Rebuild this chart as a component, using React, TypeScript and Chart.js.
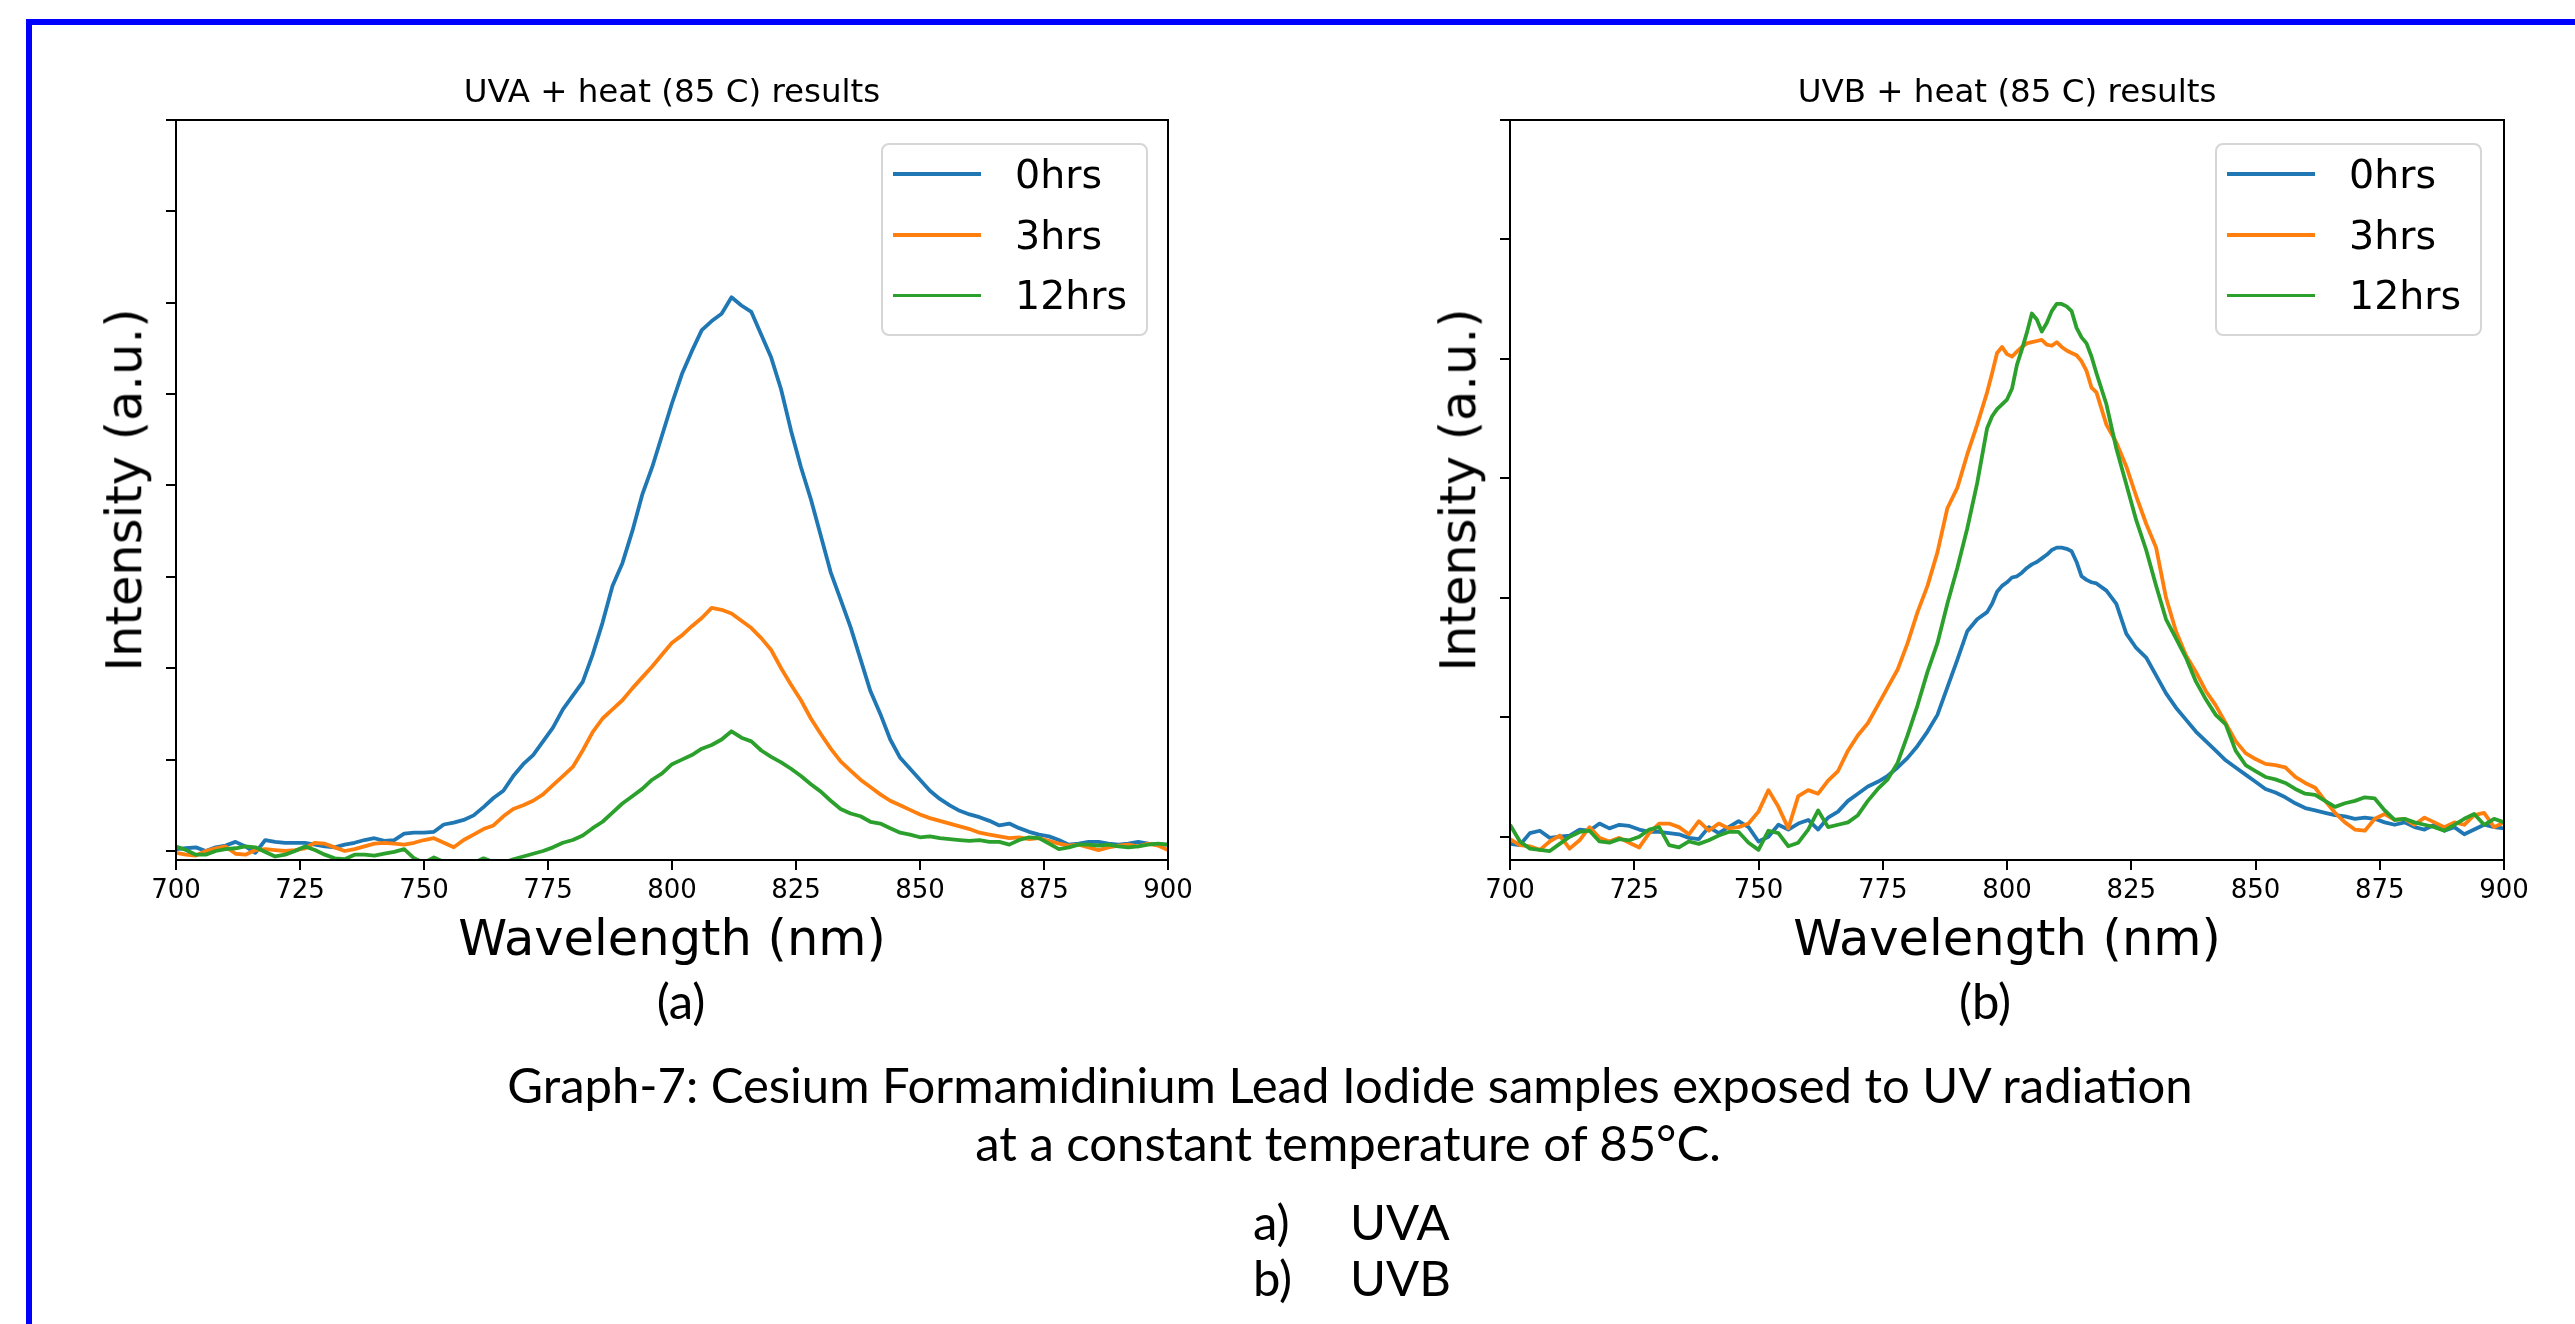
import React, { useEffect, useRef } from "react";
import { Chart, registerables } from "chart.js";

Chart.register(...registerables);

// ---------------- DATA ----------------
const seriesLabels = ["0hrs", "3hrs", "12hrs"];
const seriesColors = ["#1f77b4", "#ff7f0e", "#2ca02c"];
const xTickValues = [700, 725, 750, 775, 800, 825, 850, 875, 900];
const uvaYTicks = [0, 1, 2, 3, 4, 5, 6, 7, 8];
const uvbYTicks = [0, 1, 2, 3, 4, 5, 6];

const uvaWavelength = [
  700, 702, 704, 706, 708, 710, 712, 714, 716, 718, 720, 722, 724, 726, 728, 730, 732, 734, 736, 738,
  740, 742, 744, 746, 748, 750, 752, 754, 756, 758, 760, 762, 764, 766, 768, 770, 772, 774, 776, 778,
  780, 782, 784, 786, 788, 790, 792, 794, 796, 798, 800, 802, 804, 806, 808, 810, 812, 814, 816, 818,
  820, 822, 824, 826, 828, 830, 832, 834, 836, 838, 840, 842, 844, 846, 848, 850, 852, 854, 856, 858,
  860, 862, 864, 866, 868, 870, 872, 874, 876, 878, 880, 882, 884, 886, 888, 890, 892, 894, 896, 898,
  900,
];
const uva0hrs = [
  0.02, 0.03, 0.04, 0.0, 0.04, 0.06, 0.1, 0.05, -0.02, 0.12, 0.1, 0.09, 0.09, 0.09, 0.07, 0.05, 0.04, 0.07, 0.09, 0.12,
  0.14, 0.11, 0.12, 0.19, 0.2, 0.2, 0.21, 0.29, 0.31, 0.34, 0.39, 0.48, 0.58, 0.66, 0.82, 0.95, 1.05, 1.2, 1.35, 1.55,
  1.7, 1.85, 2.15, 2.5, 2.9, 3.15, 3.5, 3.9, 4.2, 4.55, 4.9, 5.22, 5.47, 5.7, 5.8, 5.88, 6.06, 5.97, 5.9, 5.65,
  5.4, 5.05, 4.6, 4.2, 3.85, 3.45, 3.05, 2.75, 2.45, 2.1, 1.75, 1.5, 1.22, 1.02, 0.9, 0.78, 0.66, 0.57, 0.5, 0.44,
  0.4, 0.37, 0.33, 0.28, 0.3, 0.25, 0.21, 0.18, 0.16, 0.12, 0.07, 0.08, 0.1, 0.1, 0.08, 0.07, 0.08, 0.1, 0.08, 0.07,
  0.07,
];
const uva3hrs = [
  -0.02, -0.04, -0.05, 0.0, 0.03, 0.05, -0.03, -0.04, 0.01, 0.02, 0.01, 0.0, 0.01, 0.03, 0.09, 0.08, 0.04, 0.0, 0.02, 0.05,
  0.08, 0.09, 0.08, 0.07, 0.09, 0.12, 0.14, 0.09, 0.04, 0.12, 0.18, 0.24, 0.28, 0.38, 0.46, 0.5, 0.55, 0.62, 0.72, 0.82,
  0.92, 1.1, 1.3, 1.45, 1.55, 1.65, 1.78, 1.9, 2.02, 2.15, 2.28, 2.36, 2.46, 2.55, 2.66, 2.64, 2.6, 2.52, 2.44, 2.33,
  2.2, 2.0, 1.82, 1.65, 1.45, 1.28, 1.12, 0.98, 0.88, 0.78, 0.7, 0.62, 0.55, 0.5, 0.45, 0.4, 0.36, 0.33, 0.3, 0.27,
  0.24, 0.2, 0.18, 0.16, 0.14, 0.15, 0.13, 0.14, 0.11, 0.08, 0.06, 0.07, 0.04, 0.01, 0.04, 0.06, 0.07, 0.05, 0.08, 0.06,
  0.01,
];
const uva12hrs = [
  0.05, 0.01, -0.04, -0.04, 0.0, 0.02, 0.03, 0.05, 0.04, -0.01, -0.06, -0.04, 0.0, 0.05, 0.01, -0.04, -0.08, -0.09, -0.04, -0.04,
  -0.05, -0.03, -0.01, 0.02, -0.08, -0.13, -0.07, -0.12, -0.14, -0.12, -0.13, -0.08, -0.12, -0.13, -0.09, -0.06, -0.03, 0.0, 0.04, 0.09,
  0.12, 0.17, 0.25, 0.32, 0.42, 0.52, 0.6, 0.68, 0.78, 0.85, 0.95, 1.0, 1.05, 1.12, 1.16, 1.22, 1.31, 1.24, 1.2, 1.1,
  1.03, 0.97, 0.9, 0.82, 0.73, 0.65, 0.55, 0.46, 0.41, 0.38, 0.32, 0.3, 0.25, 0.2, 0.18, 0.15, 0.16, 0.14, 0.13, 0.12,
  0.11, 0.12, 0.1, 0.1, 0.07, 0.12, 0.15, 0.14, 0.08, 0.02, 0.04, 0.07, 0.07, 0.06, 0.07, 0.05, 0.04, 0.05, 0.07, 0.08,
  0.07,
];

const uvbWavelength = [
  700, 702, 704, 706, 708, 710, 712, 714, 716, 718, 720, 722, 724, 726, 728, 730, 732, 734, 736, 738,
  740, 742, 744, 746, 748, 750, 752, 754, 756, 758, 760, 762, 764, 766, 768, 770, 772, 774, 776, 778,
  780, 782, 784, 786, 788, 790, 792, 794, 796,
  797, 798, 799, 800, 801, 802, 803, 804, 805, 806, 807, 808, 809, 810, 811, 812, 813, 814, 815, 816, 817,
  818, 820, 822, 824, 826, 828, 830, 832, 834, 836, 838, 840, 842, 844, 846, 848, 850, 852, 854, 856,
  858, 860, 862, 864, 866, 868, 870, 872, 874, 876, 878, 880, 882, 884, 886, 888, 890, 892, 894, 896,
  898, 900,
];
const uvb0hrs = [
  -0.06, -0.07, 0.03, 0.05, -0.01, 0.0, 0.01, 0.06, 0.05, 0.11, 0.07, 0.1, 0.09, 0.06, 0.04, 0.04, 0.03, 0.02, -0.01, -0.02,
  0.08, 0.03, 0.08, 0.13, 0.08, -0.04, 0.0, 0.1, 0.06, 0.11, 0.14, 0.06, 0.16, 0.21, 0.3, 0.36, 0.42, 0.46, 0.51, 0.58,
  0.66, 0.76, 0.88, 1.02, 1.25, 1.48, 1.72, 1.82, 1.88,
  1.95, 2.05, 2.1, 2.13, 2.17, 2.18, 2.21, 2.25, 2.28, 2.3, 2.33, 2.36, 2.4, 2.42, 2.42, 2.41, 2.39, 2.3, 2.18, 2.15, 2.13,
  2.12, 2.06, 1.95, 1.7, 1.58, 1.5, 1.35, 1.2, 1.08, 0.98, 0.88, 0.8, 0.72, 0.64, 0.58, 0.52, 0.46, 0.4, 0.37, 0.33,
  0.28, 0.24, 0.22, 0.2, 0.18, 0.17, 0.15, 0.16, 0.15, 0.12, 0.1, 0.12, 0.08, 0.06, 0.1, 0.05, 0.08, 0.02, 0.06, 0.1,
  0.08, 0.07,
];
const uvb3hrs = [
  -0.02, -0.07, -0.08, -0.11, -0.04, 0.01, -0.1, -0.03, 0.08, -0.01, -0.04, -0.01, -0.05, -0.09, 0.03, 0.11, 0.11, 0.08, 0.02, 0.13,
  0.05, 0.11, 0.07, 0.08, 0.11, 0.21, 0.39, 0.25, 0.07, 0.34, 0.39, 0.36, 0.47, 0.55, 0.72, 0.85, 0.95, 1.1, 1.25, 1.4,
  1.62, 1.88, 2.1, 2.38, 2.75, 2.92, 3.2, 3.45, 3.72,
  3.88, 4.05, 4.1, 4.04, 4.02, 4.06, 4.1, 4.13, 4.14, 4.15, 4.16, 4.12, 4.11, 4.14, 4.1, 4.07, 4.05, 4.03, 3.98, 3.9, 3.76,
  3.72, 3.45, 3.3, 3.1, 2.85, 2.62, 2.42, 2.0, 1.72, 1.52, 1.38, 1.22, 1.1, 0.95, 0.8, 0.7, 0.65, 0.61, 0.6, 0.58,
  0.5, 0.45, 0.41, 0.3, 0.2, 0.12, 0.06, 0.05, 0.15, 0.19, 0.14, 0.15, 0.1, 0.16, 0.12, 0.08, 0.12, 0.1, 0.18, 0.2,
  0.08, 0.12,
];
const uvb12hrs = [
  0.1, -0.04, -0.1, -0.11, -0.12, -0.06, 0.0, 0.04, 0.05, -0.04, -0.05, -0.02, -0.03, 0.0, 0.06, 0.08, -0.07, -0.09, -0.04, -0.06,
  -0.03, 0.01, 0.04, 0.04, -0.05, -0.11, 0.05, 0.03, -0.08, -0.05, 0.06, 0.22, 0.08, 0.1, 0.12, 0.18, 0.3, 0.4, 0.48, 0.62,
  0.85, 1.1, 1.38, 1.62, 1.95, 2.25, 2.58, 2.96, 3.42,
  3.52, 3.58, 3.62, 3.66, 3.75, 3.95, 4.08, 4.22, 4.38, 4.33, 4.23, 4.3, 4.4, 4.46, 4.46, 4.44, 4.4, 4.26, 4.18, 4.13, 4.02,
  3.88, 3.62, 3.25, 2.95, 2.65, 2.4, 2.1, 1.82, 1.66, 1.5, 1.3, 1.15, 1.02, 0.94, 0.72, 0.6, 0.55, 0.5, 0.48, 0.45,
  0.4, 0.36, 0.35, 0.3, 0.25, 0.28, 0.3, 0.33, 0.32, 0.22, 0.14, 0.15, 0.12, 0.1, 0.08, 0.05, 0.1, 0.15, 0.19, 0.1,
  0.15, 0.12,
];

// ---------------- CHART ----------------
const framePlugin = {
  id: "frame",
  afterDatasetsDraw(chart: any) {
    const { ctx, chartArea: a } = chart;
    ctx.save();
    ctx.strokeStyle = "#000";
    ctx.lineWidth = 2;
    ctx.strokeRect(a.left, a.top, a.right - a.left, a.bottom - a.top);
    ctx.restore();
  },
};

type ChartProps = {
  left: number;
  top: number;
  width: number;
  height: number;
  padding: { left: number; right: number; top: number; bottom: number };
  wavelengths: number[];
  series: number[][];
  yMin: number;
  yMax: number;
  yTicks: number[];
};

function SpectrumChart(p: ChartProps) {
  const ref = useRef<HTMLCanvasElement>(null);
  useEffect(() => {
    if (!ref.current) return;
    const datasets = p.series.map((vals, si) => ({
      label: seriesLabels[si],
      data: p.wavelengths.map((x, i) => ({ x, y: vals[i] })),
      borderColor: seriesColors[si],
      backgroundColor: seriesColors[si],
      borderWidth: 3.8,
      borderJoinStyle: "round" as const,
      pointRadius: 0,
      fill: false,
      tension: 0,
      order: 3 - si,
    }));
    const gridOpts = {
      display: true,
      drawOnChartArea: false,
      drawTicks: true,
      tickLength: 10,
      color: "#000",
      lineWidth: 2,
      tickWidth: 2,
      tickColor: "#000",
    };
    const chart = new Chart(ref.current, {
      type: "line",
      data: { datasets },
      options: {
        animation: false,
        responsive: false,
        events: [],
        layout: { padding: p.padding },
        plugins: {
          legend: { display: false },
          title: { display: false },
          tooltip: { enabled: false },
        },
        scales: {
          x: {
            type: "linear",
            min: 700,
            max: 900,
            border: { display: false },
            grid: gridOpts,
            ticks: {
              stepSize: 25,
              color: "#000",
              padding: 6,
              maxRotation: 0,
              autoSkip: false,
              font: { family: "DejaVu Sans", size: 26 },
            },
            afterBuildTicks: (s: any) => {
              s.ticks = xTickValues.map((v) => ({ value: v }));
            },
            afterFit: (s: any) => {
              s.height = 60;
              s.paddingLeft = 0;
              s.paddingRight = 0;
            },
          },
          y: {
            type: "linear",
            min: p.yMin,
            max: p.yMax,
            border: { display: false },
            grid: gridOpts,
            ticks: { display: false },
            afterBuildTicks: (s: any) => {
              s.ticks = p.yTicks.map((v) => ({ value: v }));
            },
            afterFit: (s: any) => {
              s.width = 10;
              s.paddingTop = 0;
              s.paddingBottom = 0;
            },
          },
        },
      } as any,
      plugins: [framePlugin],
    });
    return () => chart.destroy();
  }, []);
  return (
    <canvas
      ref={ref}
      width={p.width}
      height={p.height}
      style={{ position: "absolute", left: p.left, top: p.top, width: p.width, height: p.height }}
    />
  );
}

// ---------------- TEXT HELPERS ----------------
const DV = "'DejaVu Sans', sans-serif";
const LATO = "Lato, 'Open Sans', sans-serif";
const K_DV = 0.846; // baseline offset ratio for DejaVu Sans with line-height 1
const K_LATO = 0.887;
const CAP = 49;

function Txt(props: {
  x: number;
  y: number; // baseline
  text: string;
  size: number;
  family?: string;
  align?: "center" | "left";
  k?: number;
}) {
  const { x, y, text, size, family = DV, align = "center", k = K_DV } = props;
  return (
    <div
      style={{
        position: "absolute",
        left: x,
        top: y - k * size,
        fontFamily: family,
        fontSize: size,
        lineHeight: `${size}px`,
        whiteSpace: "nowrap",
        color: "#000",
        transform: align === "center" ? "translateX(-50%)" : undefined,
      }}
    >
      {text}
    </div>
  );
}

function VTxt(props: { cx: number; cy: number; text: string; size: number }) {
  const { cx, cy, text, size } = props;
  return (
    <div
      style={{
        position: "absolute",
        left: cx,
        top: cy,
        fontFamily: DV,
        fontSize: size,
        lineHeight: `${size}px`,
        whiteSpace: "nowrap",
        color: "#000",
        transform: "translate(-50%, -50%) rotate(-90deg)",
      }}
    >
      {text}
    </div>
  );
}

function Legend({ boxLeft }: { boxLeft: number }) {
  const rowsY = [174.3, 235, 295.5];
  return (
    <>
      <div
        style={{
          position: "absolute",
          left: boxLeft,
          top: 143,
          width: 267,
          height: 193,
          border: "2px solid #d6d6d6",
          borderRadius: 8,
          boxSizing: "border-box",
          background: "rgba(255,255,255,0.8)",
        }}
      />
      {seriesLabels.map((lab, i) => (
        <React.Fragment key={lab}>
          <div
            style={{
              position: "absolute",
              left: boxLeft + 12,
              top: rowsY[i] - 1.9,
              width: 88,
              height: 3.8,
              background: seriesColors[i],
            }}
          />
          <Txt x={boxLeft + 134} y={rowsY[i] + 0.3645 * 39.5} text={lab} size={39.5} align="left" />
        </React.Fragment>
      ))}
    </>
  );
}

export default function App() {
  return (
    <div
      style={{
        position: "fixed",
        left: 0,
        top: 0,
        width: 2575,
        height: 1324,
        overflow: "hidden",
        background: "#fff",
      }}
    >
      <div
        style={{
          position: "absolute",
          left: 26,
          top: 19,
          width: 3000,
          height: 2000,
          border: "6px solid #0000ff",
          boxSizing: "border-box",
        }}
      />

      <SpectrumChart
        left={0}
        top={0}
        width={1290}
        height={1000}
        padding={{ left: 166, right: 122, top: 120, bottom: 80 }}
        wavelengths={uvaWavelength}
        series={[uva0hrs, uva3hrs, uva12hrs]}
        yMin={-0.0985}
        yMax={8}
        yTicks={uvaYTicks}
      />
      <SpectrumChart
        left={1290}
        top={0}
        width={1285}
        height={1000}
        padding={{ left: 210, right: 71, top: 120, bottom: 80 }}
        wavelengths={uvbWavelength}
        series={[uvb0hrs, uvb3hrs, uvb12hrs]}
        yMin={-0.195}
        yMax={6}
        yTicks={uvbYTicks}
      />

      <Txt x={672} y={102} text="UVA + heat (85 C) results" size={32.5} />
      <Txt x={2007} y={102} text="UVB + heat (85 C) results" size={32.5} />
      <Txt x={672} y={956} text="Wavelength (nm)" size={49.5} />
      <Txt x={2007} y={956} text="Wavelength (nm)" size={49.5} />
      <VTxt cx={125} cy={490} text="Intensity (a.u.)" size={49.5} />
      <VTxt cx={1459} cy={490} text="Intensity (a.u.)" size={49.5} />

      <Legend boxLeft={881} />
      <Legend boxLeft={2215} />

      <Txt x={681} y={1019} text="(a)" size={CAP} family={LATO} k={K_LATO} />
      <Txt x={1985} y={1019} text="(b)" size={CAP} family={LATO} k={K_LATO} />

      <Txt
        x={1350}
        y={1103}
        text="Graph-7: Cesium Formamidinium Lead Iodide samples exposed to UV radiation"
        size={CAP}
        family={LATO}
        k={K_LATO}
      />
      <Txt x={1348} y={1161} text="at a constant temperature of 85°C." size={CAP} family={LATO} k={K_LATO} />
      <Txt x={1253} y={1240} text="a)" size={CAP} family={LATO} k={K_LATO} align="left" />
      <Txt x={1350} y={1240} text="UVA" size={CAP} family={LATO} k={K_LATO} align="left" />
      <Txt x={1253} y={1296} text="b)" size={CAP} family={LATO} k={K_LATO} align="left" />
      <Txt x={1350} y={1296} text="UVB" size={CAP} family={LATO} k={K_LATO} align="left" />
    </div>
  );
}
